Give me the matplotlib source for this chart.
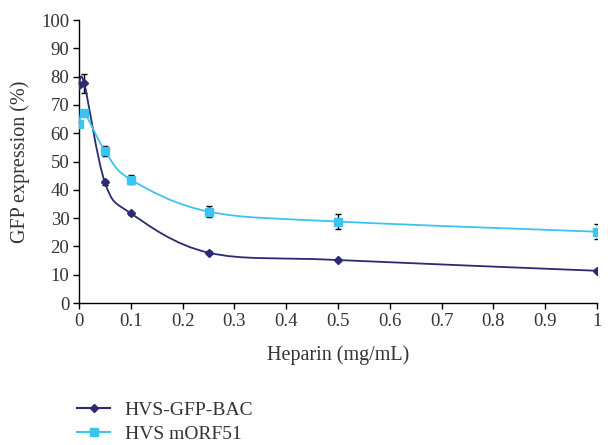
import numpy as np
import matplotlib.pyplot as plt
from matplotlib.path import Path
from matplotlib.patches import PathPatch
from matplotlib.lines import Line2D

heparin = [0, 0.01, 0.05, 0.1, 0.25, 0.5, 1.0]
gfp_bac = [77.2, 77.6, 42.6, 31.7, 17.8, 15.2, 11.4]
gfp_bac_err = [1.0, 3.3, 0.8, 0.6, 0.5, 0.4, 0.6]
morf51 = [63.3, 67.2, 53.8, 43.6, 32.3, 28.8, 25.2]
morf51_err = [0.6, 0.7, 1.8, 1.7, 2.0, 2.7, 2.6]

labels = ["HVS-GFP-BAC", "HVS mORF51"]
colors = ["#2b2a72", "#3cc4f0"]
markers = ["D", "s"]
msizes = [4, 6]

plt.rcParams['font.family'] = ['Liberation Serif', 'DejaVu Serif']
TXT = "#333333"


def smooth_path(ax, xs, ys):
    # Bezier smoothing (like spreadsheet "smoothed line") done in pixel space
    pts = ax.transData.transform(np.column_stack([xs, ys]))
    n = len(pts)
    verts = [pts[0]]
    codes = [Path.MOVETO]
    for i in range(n - 1):
        p0 = pts[i - 1] if i > 0 else pts[i]
        p1 = pts[i]
        p2 = pts[i + 1]
        p3 = pts[i + 2] if i + 2 < n else pts[i + 1]
        c1 = p1 + (p2 - p0) / 6.0
        c2 = p2 - (p3 - p1) / 6.0
        verts += [c1, c2, p2]
        codes += [Path.CURVE4] * 3
    return Path(verts, codes)


fig = plt.figure(figsize=(6.08, 4.45), dpi=100)
ax = fig.add_axes([0.130, 0.319, 0.852, 0.636])
ax.set_xlim(0, 1)
ax.set_ylim(0, 100)

series = [(gfp_bac, gfp_bac_err), (morf51, morf51_err)]
for (vals, errs), lab, col, mk, ms in zip(series, labels, colors, markers, msizes):
    ax.errorbar(heparin, vals, yerr=errs, fmt='none', ecolor='black',
                elinewidth=1.0, capsize=2.5, capthick=1.0, zorder=2)
    ax.plot(heparin, vals, linestyle='none', marker=mk, color=col,
            markersize=ms, zorder=4, label=lab)

fig.canvas.draw()
for (vals, errs), col in zip(series, colors):
    p = smooth_path(ax, heparin, vals)
    patch = PathPatch(p, facecolor='none', edgecolor=col, lw=1.3,
                      transform=None, zorder=3, clip_on=False)
    ax.add_artist(patch)

ax.set_xticks(np.arange(0, 1.01, 0.1))
ax.set_xticklabels(["0", "0.1", "0.2", "0.3", "0.4", "0.5", "0.6", "0.7", "0.8", "0.9", "1"])
ax.set_yticks(np.arange(0, 101, 10))
for s in ['top', 'right']:
    ax.spines[s].set_visible(False)
for s in ['left', 'bottom']:
    ax.spines[s].set_color('black')
    ax.spines[s].set_linewidth(1.0)
ax.tick_params(direction='out', length=4, width=1, pad=3, labelsize=13.5,
               colors='black', labelcolor=TXT)
ax.set_xlabel("Heparin (mg/mL)", fontsize=14.5, color=TXT, labelpad=11)
ax.set_ylabel("GFP expression (%)", fontsize=14.5, color=TXT, labelpad=8)

leg_handles = [Line2D([], [], color=c, marker=m, markersize=s, lw=1.5)
               for c, m, s in zip(colors, markers, msizes)]
fig.legend(leg_handles, labels, loc='upper left', bbox_to_anchor=(0.127, 0.099),
           frameon=False, fontsize=14, handlelength=1.7, handletextpad=0.75,
           labelspacing=0.35, labelcolor=TXT, borderaxespad=0, borderpad=0)

fig.savefig("out.png", dpi=100)
